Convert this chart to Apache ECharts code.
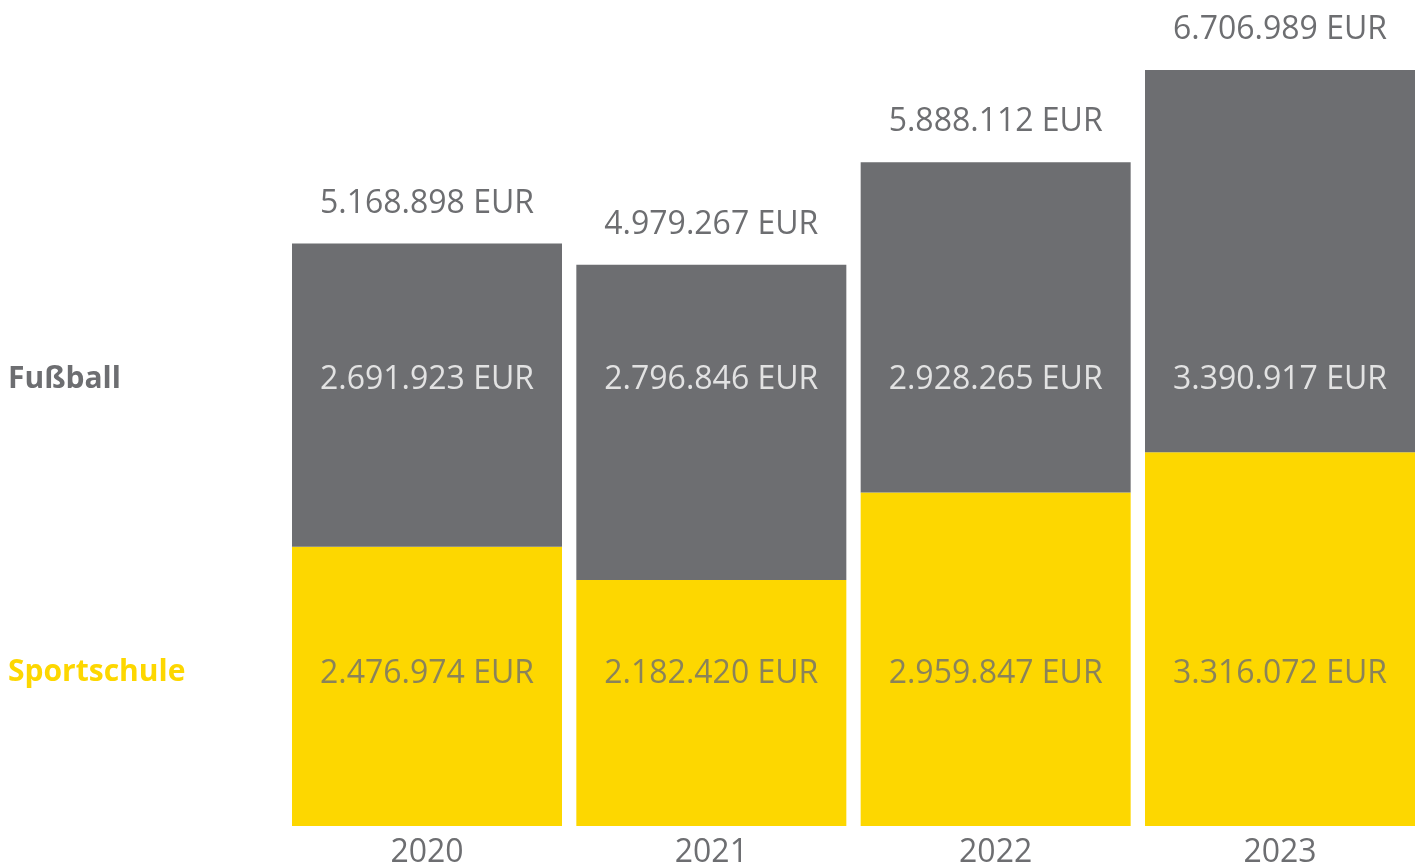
<!DOCTYPE html>
<html>
<head>
<meta charset="utf-8">
<script src="https://cdn.jsdelivr.net/npm/echarts@6/dist/echarts.min.js"></script>
<style>
html,body{margin:0;padding:0;background:#fff;}
#chart{width:1419px;height:868px;}
</style>
</head>
<body>
<div id="chart"></div>
<script>
const years = ['2020', '2021', '2022', '2023'];
const sportschule = [2476974, 2182420, 2959847, 3316072];
const fussball = [2691923, 2796846, 2928265, 3390917];
const totals = [5168898, 4979267, 5888112, 6706989];
const seriesNames = ['Sportschule', 'Fußball'];

const GREY = '#6d6e71';
const YELLOW = '#fdd700';
const FONT = '"Open Sans", sans-serif';

function fmt(v) {
  return String(v).replace(/\B(?=(\d{3})+(?!\d))/g, '.') + ' EUR';
}

// fixed row positions for the inner labels (in axis units)
const rowFussball = 3957000;
const rowSport = 1348500;

const chart = echarts.init(document.getElementById('chart'));
chart.setOption({
  animation: false,
  backgroundColor: '#fff',
  grid: { left: 427, width: 853, top: 37, height: 789, outerBoundsMode: 'none', containLabel: false },
  xAxis: {
    type: 'category',
    data: years,
    boundaryGap: false,
    axisLine: { show: false },
    axisTick: { show: false },
    splitLine: { show: false },
    axisLabel: { color: GREY, fontFamily: FONT, fontSize: 32, lineHeight: 32, margin: 11 }
  },
  yAxis: {
    type: 'value',
    min: 0,
    max: 7000000,
    show: false,
    splitLine: { show: false }
  },
  graphic: [
    { type: 'text', left: 8, top: 377 - 13,
      style: { text: seriesNames[1], fill: GREY, font: 'bold 30px "Open Sans", sans-serif' } },
    { type: 'text', left: 8, top: 670 - 13,
      style: { text: seriesNames[0], fill: YELLOW, font: 'bold 30px "Open Sans", sans-serif' } }
  ],
  series: [
    {
      name: seriesNames[0], type: 'bar', stack: 'total', barWidth: 270, clip: false,
      itemStyle: { color: YELLOW },
      data: sportschule
    },
    {
      name: seriesNames[1], type: 'bar', stack: 'total', barWidth: 270, clip: false,
      itemStyle: { color: GREY },
      label: {
        show: true, position: 'top', distance: 24,
        color: GREY, fontFamily: FONT, fontSize: 32, lineHeight: 32,
        formatter: p => fmt(totals[p.dataIndex])
      },
      data: fussball
    },
    {
      type: 'scatter', symbolSize: 0, silent: true, clip: false,
      label: {
        show: true, position: 'inside', color: '#ffffff',
        fontFamily: FONT, fontSize: 32, lineHeight: 32,
        formatter: p => fmt(fussball[p.dataIndex])
      },
      data: years.map(y => [y, rowFussball])
    },
    {
      type: 'scatter', symbolSize: 0, silent: true, clip: false,
      label: {
        show: true, position: 'inside', color: GREY,
        fontFamily: FONT, fontSize: 32, lineHeight: 32,
        formatter: p => fmt(sportschule[p.dataIndex])
      },
      data: years.map(y => [y, rowSport])
    }
  ]
});
</script>
</body>
</html>
